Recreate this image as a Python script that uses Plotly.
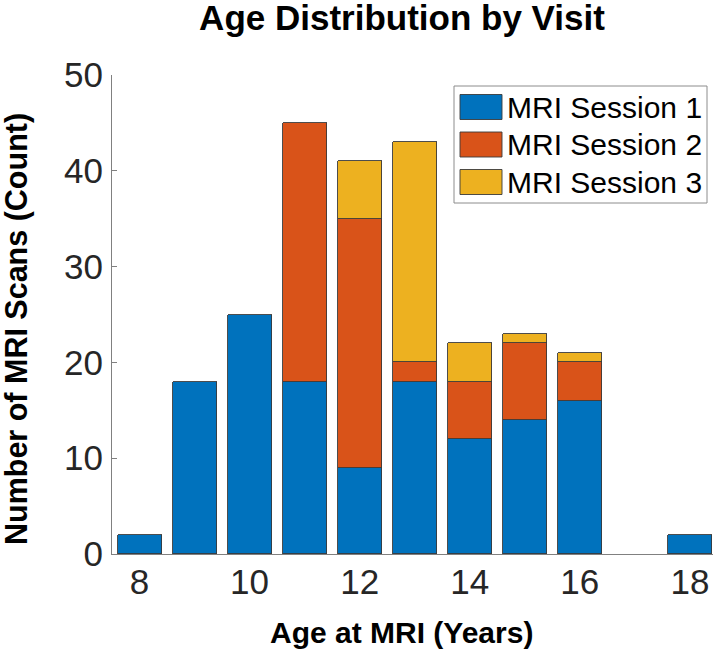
import plotly.graph_objects as go

# ages (years) and counts per MRI session
ages = [8, 9, 10, 11, 12, 13, 14, 15, 16, 17, 18]
session1 = [2, 18, 25, 18, 9, 18, 12, 14, 16, 0, 2]
session2 = [0, 0, 0, 27, 26, 2, 6, 8, 4, 0, 0]
session3 = [0, 0, 0, 0, 6, 23, 4, 1, 1, 0, 0]
series_names = ["MRI Session 1", "MRI Session 2", "MRI Session 3"]
colors = ["#0072BD", "#D95319", "#EDB120"]

W, H = 720, 649
# plot area edges in pixels: left 112, right 713, top 75, bottom 554
L, R, T, B = 112, W - 713, 75, H - 554
font_family = "Liberation Sans, Arial, Helvetica, sans-serif"


def px(x):
    # pixel x -> paper fraction
    return (x - L) / (W - L - R)


def py(y):
    # pixel y (from top) -> paper fraction
    return (H - B - y) / (H - T - B)


fig = go.Figure()
for name, vals, col in zip(series_names, [session1, session2, session3], colors):
    fig.add_trace(go.Bar(
        x=ages, y=[v if v else None for v in vals], name=name, width=0.8,
        marker=dict(color=col, line=dict(color="#3a3a3a", width=0.9)),
        showlegend=False,
    ))

# MATLAB-style legend with big swatches
shapes = [dict(type="rect", xref="paper", yref="paper",
               x0=px(454), x1=px(707), y0=py(203), y1=py(86),
               line=dict(color="#8c8c8c", width=1), fillcolor="white", layer="above")]
annotations = []
row_y = [107, 144.5, 182]
for name, col, ry in zip(series_names, colors, row_y):
    shapes.append(dict(type="rect", xref="paper", yref="paper",
                       x0=px(460), x1=px(502), y0=py(ry + 12.5), y1=py(ry - 12.5),
                       line=dict(color="#3a3a3a", width=0.9), fillcolor=col, layer="above"))
    annotations.append(dict(text=name, xref="paper", yref="paper",
                            x=px(505), y=py(ry), xanchor="left", yanchor="middle",
                            showarrow=False, font=dict(size=30, color="black")))

# axis titles
annotations.append(dict(text="<b>Age at MRI (Years)</b>", xref="paper", yref="paper",
                        x=px(401), y=py(632), xanchor="center", yanchor="middle",
                        showarrow=False, font=dict(size=30, color="black")))
annotations.append(dict(text="<b>Number of MRI Scans (Count)</b>", xref="paper", yref="paper",
                        x=px(16), y=py(329), xanchor="center", yanchor="middle", textangle=-90,
                        showarrow=False, font=dict(size=30.5, color="black")))

fig.update_layout(
    barmode="stack",
    width=W, height=H,
    paper_bgcolor="white", plot_bgcolor="white",
    margin=dict(l=L, r=R, t=T, b=B),
    font=dict(family=font_family, color="#262626"),
    title=dict(text="<b>Age Distribution by Visit</b>", x=402 / W, xanchor="center",
               xref="container", yref="container",
               y=1 - 18 / H, yanchor="middle", font=dict(size=35, color="black")),
    xaxis=dict(range=[7.5, 18.42], tickvals=[8, 10, 12, 14, 16, 18],
               showline=True, linecolor="#808080", linewidth=1,
               ticks="", showgrid=False, zeroline=False, automargin=False,
               ticklabelstandoff=-3,
               tickfont=dict(size=35, color="#262626")),
    yaxis=dict(range=[0, 50], tickvals=[0, 10, 20, 30, 40, 50],
               showline=True, linecolor="#808080", linewidth=1,
               ticks="inside", ticklen=5, tickcolor="#808080",
               showgrid=False, zeroline=False, automargin=False,
               ticklabelstandoff=1,
               tickfont=dict(size=35, color="#262626")),
    shapes=shapes,
    annotations=annotations,
    bargap=0,
)

# drop the default 8px body margin so the figure sits at the page corner
fig.write_html("out.html", config={"displayModeBar": False},
               post_script="document.body.style.margin='0px';")
